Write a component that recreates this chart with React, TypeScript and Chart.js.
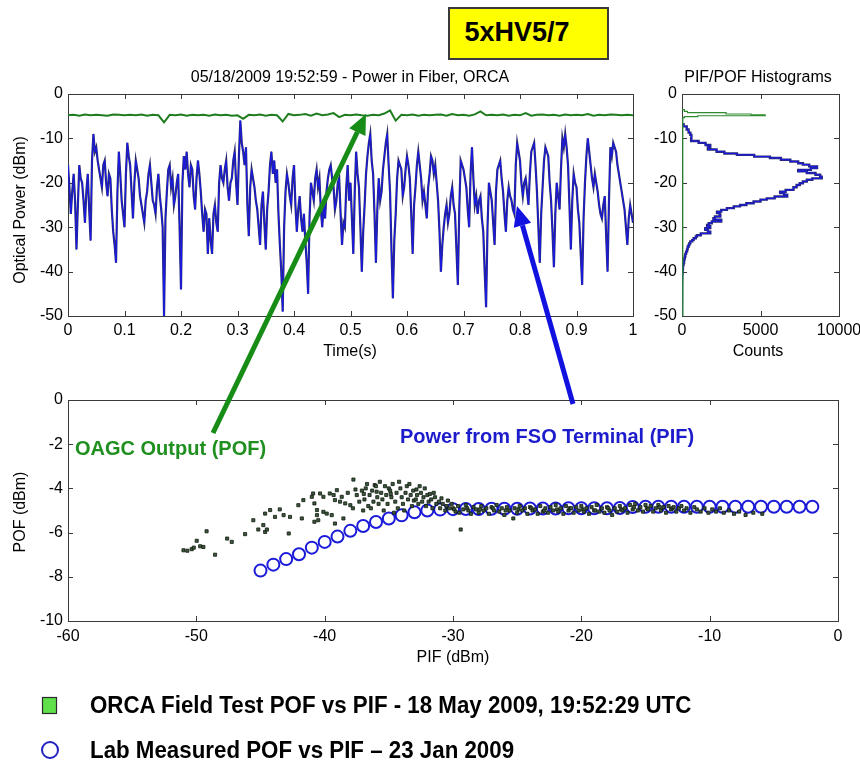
import React, { useEffect, useRef } from "react";
import { Chart, registerables } from "chart.js";
Chart.register(...registerables);

const FONT = '"Liberation Sans", Arial, Helvetica, sans-serif';

// ---------- top panel: power in fiber vs time ----------
const pifStep = 0.0025; // s between PIF samples
const pifTrace = [
  -16, -21, -27, -22, -18, -24, -35, -25, -16, -19, -20, -24, -29, -22, -18, -26, -33, -15, -9, -13,
  -12, -15, -17, -19, -21, -16, -15, -20, -23, -18, -19, -26, -31, -34, -38, -22, -13, -18, -24, -27,
  -30, -18, -11, -14, -16, -22, -28, -20, -15, -17, -19, -23, -25, -27, -29, -24, -22, -18, -16, -20,
  -24, -25, -27, -21, -18, -23, -26, -30, -50, -28, -22, -17, -16, -21, -19, -25, -23, -20, -18, -30,
  -44, -20, -14, -17, -13, -18, -21, -16, -17, -23, -26, -19, -15, -18, -22, -27, -31, -26, -27, -36,
  -28, -33, -36, -27, -25, -29, -31, -20, -16, -19, -20, -17, -15, -21, -24, -20, -19, -15, -13, -20,
  -25, -14, -6, -11, -13, -16, -12, -25, -32, -21, -17, -19, -21, -24, -26, -30, -34, -25, -22, -29,
  -35, -26, -22, -16, -13, -18, -15, -20, -17, -27, -34, -40, -49, -30, -22, -18, -20, -23, -25, -19,
  -16, -25, -31, -26, -23, -28, -31, -27, -33, -38, -45, -28, -20, -22, -24, -19, -17, -21, -19, -26,
  -30, -25, -28, -22, -19, -17, -16, -19, -21, -26, -24, -20, -19, -27, -34, -29, -30, -21, -16, -24,
  -20, -28, -36, -22, -13, -18, -21, -30, -40, -31, -25, -18, -14, -11, -9, -15, -18, -27, -38, -26,
  -19, -24, -22, -17, -14, -11, -9, -16, -22, -35, -46, -33, -27, -19, -15, -16, -17, -23, -21, -17,
  -14, -16, -19, -27, -36, -25, -21, -16, -13, -16, -19, -24, -22, -25, -28, -21, -18, -14, -15, -18,
  -16, -20, -24, -31, -40, -34, -30, -27, -25, -29, -27, -23, -21, -25, -27, -35, -43, -26, -15, -16,
  -17, -19, -21, -26, -30, -18, -12, -19, -25, -23, -27, -24, -23, -28, -31, -40, -48, -30, -20, -22,
  -24, -29,
  -34, -22, -17, -16, -15, -19, -22, -27, -31, -24, -21, -23, -24, -26, -27, -16, -11, -13, -15, -20,
  -23, -20, -19, -22, -25, -18, -13, -12, -11, -16, -22, -30, -38, -27, -21, -15, -12, -13, -14, -20,
  -24, -31, -39, -27, -20, -23, -26, -17, -10, -12, -9, -12, -16, -25, -35, -24, -18, -20, -21, -26,
  -29, -36, -43, -28, -20, -14, -10, -13, -16, -19, -21, -18, -20, -22, -25, -27, -28, -25, -23, -32,
  -40, -24, -12, -14, -11, -12, -13, -16, -18, -20, -22, -24, -26, -30, -34, -28, -25, -27, -29,
];

const pofStep = 0.01; // s between POF samples
const pofTrace = [
  -4.8, -4.7, -4.9, -4.6, -4.8, -4.7, -4.8, -4.9, -4.6, -4.7,
  -4.8, -4.7, -4.8, -4.6, -4.9, -4.7, -4.8, -6.4, -4.7, -4.8,
  -4.6, -4.9, -4.7, -4.8, -4.7, -4.9, -4.6, -4.8, -4.7, -4.9,
  -4.8, -5.6, -4.7, -4.8, -4.6, -4.9, -4.7, -4.8, -6.2, -4.5,
  -4.8, -4.7, -4.5, -4.9, -4.4, -4.8, -4.6, -4.3, -5.2, -4.7,
  -4.8, -4.6, -4.8, -4.9, -4.7, -4.8, -4.4, -3.7, -6.0, -4.7,
  -4.8, -4.6, -4.9, -4.7, -4.8, -4.7, -4.6, -4.9, -4.5, -4.8,
  -4.7, -4.9, -4.6, -3.9, -4.8, -4.7, -4.8, -4.6, -4.9, -4.7,
  -4.8, -4.3, -4.9, -4.7, -4.6, -4.8, -4.7, -4.9, -4.6, -4.8,
  -4.7, -4.8, -4.5, -4.9, -4.7, -4.8, -4.6, -4.7, -4.8, -4.7,
  -4.8,
];

// ---------- histogram panel ----------
const pifHistLevels = [
  -6.8, -7.3, -8.0, -8.7, -9.2, -10.0, -10.6, -11.0, -11.5, -12.0,
  -12.5, -13.0, -13.4, -13.7, -14.1, -14.4, -14.8, -15.2, -15.6, -15.9,
  -16.3, -16.7, -17.1, -17.4, -17.8, -18.2, -18.6, -19.0, -19.3, -19.7,
  -20.1, -20.5, -21.0, -21.6, -22.0, -22.3, -22.7, -23.1, -23.5, -23.8,
  -24.2, -24.6, -25.0, -25.3, -25.7, -26.1, -26.5, -26.8, -27.2, -27.6,
  -28.0, -28.3, -28.7, -29.1, -29.5, -29.8, -30.2, -30.6, -31.0, -31.4,
  -31.8, -32.1, -32.5, -32.9, -33.2, -33.6, -34.0, -34.4, -35.0, -35.5,
  -36.0, -36.6, -37.0, -37.4, -38.0, -38.5, -39.5, -40.4, -41.5, -43.0,
  -45.0, -47.0, -50.0,
];
const pifHistCounts = [
  0, 100, 300, 420, 530, 600, 580, 1060, 1500, 1800,
  1650, 2200, 2700, 3500, 4600, 5600, 6300, 6900, 7400, 7700,
  8100, 8600, 8200, 7400, 7950, 8500, 8800, 8900, 8300, 7950,
  7700, 7500, 7300, 7100, 6600, 6250, 6500, 6700, 5900, 5400,
  5000, 4560, 4100, 3700, 3300, 2860, 2500, 2230, 2400, 2440,
  2100, 2000, 2500, 1900, 1700, 1600, 1800, 1480, 1650, 1800,
  1200, 950, 880, 740, 650, 530, 470, 420, 360, 320,
  260, 210, 180, 150, 130, 100, 60, 40, 20, 10,
  5, 2, 0,
];
const pofHistLevels = [-3.5, -3.9, -4.2, -4.5, -4.7, -4.9, -5.1, -5.3, -5.6, -6.0, -50];
const pofHistCounts = [0, 150, 350, 2800, 4400, 5300, 1000, 150, 60, 50, 50];

// ---------- bottom panel: POF vs PIF ----------
const orcaPoints: [number, number][] = [
  [-51.0, -6.8], [-50.7, -6.82], [-50.36, -6.75], [-50.2, -6.68], [-49.97, -6.37], [-49.7, -6.62],
  [-49.45, -6.65], [-49.2, -5.94], [-48.54, -7.0], [-47.6, -6.27], [-47.24, -6.42], [-46.2, -6.07],
  [-45.56, -5.44], [-45.17, -5.86], [-44.78, -5.66], [-44.64, -5.97], [-44.5, -5.86], [-44.64, -5.14],
  [-44.25, -4.98], [-43.87, -5.29], [-43.5, -4.95], [-43.2, -5.21], [-42.7, -5.29], [-42.8, -6.04],
  [-41.78, -5.36], [-42.05, -4.76], [-41.66, -4.53], [-40.9, -4.23], [-41.0, -4.38], [-40.8, -4.68],
  [-40.6, -4.98], [-40.6, -5.21], [-40.5, -5.44], [-40.8, -5.51], [-40.36, -4.23], [-40.1, -4.38],
  [-40.1, -5.06], [-39.84, -5.14], [-39.45, -5.21], [-39.2, -5.59], [-39.6, -4.23], [-39.2, -4.53],
  [-39.05, -4.08], [-38.67, -4.38], [-38.4, -4.68], [-38.54, -5.36], [-38.0, -4.76], [-37.76, -3.6],
  [-39.3, -4.3], [-38.8, -4.6], [-38.2, -4.2], [-37.8, -4.9], [-37.6, -4.05], [-37.5, -4.3],
  [-37.3, -4.6], [-37.1, -4.1], [-37.0, -5.0], [-36.95, -4.25], [-36.9, -4.5], [-36.8, -4.0],
  [-36.7, -3.8], [-36.6, -4.8], [-36.5, -4.3], [-36.4, -4.9], [-36.3, -4.1], [-36.2, -4.6],
  [-36.1, -3.85], [-36.0, -3.9], [-35.95, -4.15], [-35.9, -4.4], [-35.8, -4.7], [-35.7, -3.7],
  [-35.6, -4.2], [-35.5, -4.5], [-35.4, -5.0], [-35.3, -3.9], [-35.2, -4.3], [-35.1, -4.7],
  [-35.0, -4.0], [-34.9, -4.1], [-34.85, -4.25], [-34.8, -4.4], [-34.7, -3.8], [-34.6, -5.1],
  [-34.5, -4.6], [-34.4, -4.2], [-34.3, -4.9], [-34.2, -3.7], [-34.1, -4.0], [-34.0, -4.4],
  [-33.9, -4.7], [-33.8, -5.0], [-33.7, -4.2], [-33.6, -3.9], [-33.5, -4.5], [-33.4, -3.8],
  [-33.3, -4.3], [-33.2, -4.8], [-33.1, -4.1], [-33.05, -4.55], [-32.9, -4.5], [-32.85, -4.05],
  [-32.8, -4.3], [-32.7, -4.7], [-32.6, -3.9], [-32.5, -4.2], [-32.4, -4.6], [-32.3, -4.4],
  [-32.2, -4.0], [-32.1, -4.8], [-32.0, -4.3], [-31.9, -4.6], [-31.8, -4.25], [-31.7, -4.5],
  [-31.6, -4.9], [-31.5, -4.2], [-31.4, -4.4], [-31.3, -4.7], [-31.1, -4.6], [-31.0, -4.9],
  [-30.9, -4.45], [-30.8, -4.7], [-30.6, -5.0], [-30.5, -4.8], [-30.4, -4.55], [-30.3, -4.9],
  [-30.1, -4.7], [-30.0, -4.9], [-29.9, -4.95], [-29.8, -5.05], [-29.6, -4.8], [-29.5, -5.1],
  [-29.4, -5.86], [-29.2, -4.95], [-29.0, -4.75], [-28.9, -4.9], [-28.8, -5.0], [-28.6, -5.15],
  [-28.4, -4.85], [-28.2, -4.95], [-28.0, -5.1], [-27.9, -4.95], [-27.8, -4.8], [-27.6, -5.0],
  [-27.4, -4.9], [-27.2, -5.15], [-27.0, -4.85], [-26.9, -4.9], [-26.8, -5.0], [-26.6, -4.75],
  [-26.4, -5.05], [-26.2, -4.9], [-26.0, -5.2], [-25.9, -5.0], [-25.8, -4.85], [-25.6, -5.0],
  [-25.3, -5.36], [-25.2, -4.9], [-25.0, -5.1], [-24.9, -4.95], [-24.8, -4.8], [-24.6, -5.0],
  [-24.4, -4.9], [-24.2, -5.15], [-24.0, -4.85], [-23.9, -4.9], [-23.8, -5.0], [-23.6, -4.95],
  [-23.4, -5.15], [-23.2, -4.8], [-23.0, -5.05], [-22.9, -5.0], [-22.8, -4.9], [-22.6, -5.1],
  [-22.4, -4.85], [-22.2, -5.0], [-22.0, -4.75], [-21.9, -4.95], [-21.8, -5.05], [-21.6, -4.9],
  [-21.4, -5.15], [-21.2, -4.8], [-21.0, -5.0], [-20.9, -4.9], [-20.8, -4.9], [-20.6, -5.1],
  [-20.4, -4.85], [-20.2, -5.0], [-20.0, -4.8], [-19.9, -4.95], [-19.8, -5.05], [-19.6, -4.9],
  [-19.4, -5.15], [-19.2, -4.85], [-19.0, -5.0], [-18.9, -5.0], [-18.8, -4.75], [-18.6, -5.05],
  [-18.4, -4.9], [-18.2, -5.1], [-18.0, -4.85], [-17.9, -4.9], [-17.8, -5.0], [-17.6, -5.2],
  [-17.4, -4.9], [-17.2, -5.05], [-17.0, -4.8], [-16.9, -4.95], [-16.8, -5.0], [-16.6, -4.9],
  [-16.4, -5.1], [-16.2, -4.75], [-16.0, -4.95], [-15.9, -4.85], [-15.8, -4.7], [-15.6, -5.0],
  [-15.4, -4.85], [-15.2, -5.05], [-15.0, -4.75], [-14.9, -4.9], [-14.8, -4.95], [-14.6, -4.8],
  [-14.4, -5.05], [-14.2, -4.9], [-14.0, -4.75], [-13.9, -4.85], [-13.8, -5.0], [-13.6, -4.85],
  [-13.4, -5.1], [-13.2, -4.8], [-13.0, -4.95], [-12.9, -4.9], [-12.8, -4.85], [-12.6, -5.05],
  [-12.4, -4.9], [-12.2, -4.8], [-12.0, -5.0], [-11.8, -4.9], [-11.5, -5.1], [-11.2, -4.85],
  [-11.0, -4.95], [-10.7, -5.05], [-10.4, -4.9], [-10.1, -5.1], [-9.8, -4.95], [-9.5, -5.05],
  [-9.2, -4.9], [-8.9, -5.1], [-8.5, -5.0], [-8.1, -5.15], [-7.7, -5.05], [-7.2, -5.2],
  [-6.6, -5.1], [-5.9, -5.15],
];

const labPIF = [
  -45, -44, -43, -42, -41, -40, -39, -38, -37, -36, -35, -34, -33, -32, -31,
  -30, -29, -28, -27, -26, -25, -24, -23, -22, -21, -20, -19, -18, -17, -16,
  -15, -14, -13, -12, -11, -10, -9, -8, -7, -6, -5, -4, -3, -2,
];
const labPOF = [
  -7.72, -7.45, -7.2, -6.98, -6.68, -6.42, -6.18, -5.92, -5.7, -5.52, -5.36, -5.22, -5.08, -5.0, -4.96,
  -4.94, -4.93, -4.93, -4.92, -4.92, -4.92, -4.91, -4.91, -4.91, -4.9, -4.9, -4.9, -4.9, -4.89, -4.84,
  -4.83, -4.83, -4.83, -4.83, -4.83, -4.83, -4.83, -4.83, -4.83, -4.83, -4.83, -4.83, -4.83, -4.83,
];

// ---------- MATLAB-style box with inward ticks ----------
const matlabBox = {
  id: "matlabBox",
  beforeDatasetsDraw(chart: any) {
    const { ctx, chartArea: a, scales } = chart;
    const L = 5;
    ctx.save();
    ctx.strokeStyle = "#3a3a3a";
    ctx.lineWidth = 1;
    ctx.beginPath();
    const xs = scales.x;
    const ys = scales.y;
    xs.ticks.forEach((t: any) => {
      const p = Math.round(xs.getPixelForValue(t.value)) + 0.5;
      ctx.moveTo(p, a.bottom);
      ctx.lineTo(p, a.bottom - L);
      ctx.moveTo(p, a.top);
      ctx.lineTo(p, a.top + L);
    });
    ys.ticks.forEach((t: any) => {
      const p = Math.round(ys.getPixelForValue(t.value)) + 0.5;
      ctx.moveTo(a.left, p);
      ctx.lineTo(a.left + L, p);
      ctx.moveTo(a.right, p);
      ctx.lineTo(a.right - L, p);
    });
    ctx.stroke();
    ctx.strokeRect(Math.round(a.left) + 0.5, Math.round(a.top) + 0.5, Math.round(a.width), Math.round(a.height));
    ctx.restore();
  },
};

const tickFont = { family: FONT, size: 16 };

function axis(min: number, max: number, step: number, fit: (s: any) => void, fmt?: (v: number) => string, padding = 5) {
  return {
    type: "linear",
    min,
    max,
    afterFit: fit,
    grid: { display: false, drawTicks: false },
    border: { display: false },
    ticks: {
      stepSize: step,
      autoSkip: false,
      maxRotation: 0,
      padding,
      color: "#000",
      font: tickFont,
      callback: fmt || ((v: number) => String(Math.round(v * 10) / 10)),
    },
  };
}

const baseOptions = (padding: any) => ({
  responsive: false,
  animation: false,
  events: [],
  layout: { padding },
  plugins: { legend: { display: false }, tooltip: { enabled: false }, title: { display: false } },
});

function timeChartConfig() {
  const pif = pifTrace.map((v, i) => ({ x: i * pifStep, y: v }));
  const pof = pofTrace.map((v, i) => ({ x: i * pofStep, y: v }));
  return {
    type: "line",
    data: {
      datasets: [
        { data: pof, borderColor: "#1f7d1f", borderWidth: 2, pointRadius: 0, tension: 0 },
        { data: pif, borderColor: "#1818ee", borderWidth: 1, pointRadius: 0, tension: 0 },
        { data: pif, borderColor: "#2b2b70", borderWidth: 2.2, pointRadius: 0, tension: 0 },
      ],
    },
    options: {
      ...baseOptions({ top: 34, right: 17, left: 0, bottom: 0 }),
      scales: {
        x: axis(0, 1, 0.1, (s) => { s.height = 44; }),
        y: axis(-50, 0, 10, (s) => { s.width = 68; }),
      },
    },
    plugins: [matlabBox],
  };
}

function histChartConfig() {
  const pifH = pifHistLevels.map((y, i) => ({ x: pifHistCounts[i], y }));
  const pofH = pofHistLevels.map((y, i) => ({ x: pofHistCounts[i], y }));
  return {
    type: "line",
    data: {
      datasets: [
        { data: pofH, borderColor: "#2e8b2e", borderWidth: 1.2, pointRadius: 0, stepped: true },
        { data: pifH, borderColor: "#1818ee", borderWidth: 1, pointRadius: 0, stepped: true },
        { data: pifH, borderColor: "#2b2b70", borderWidth: 2.4, pointRadius: 0, stepped: true },
      ],
    },
    options: {
      ...baseOptions({ top: 34, right: 31, left: 0, bottom: 0 }),
      scales: {
        x: axis(0, 10000, 5000, (s) => { s.height = 44; }, (v) => String(v)),
        y: axis(-50, 0, 10, (s) => { s.width = 42; }),
      },
    },
    plugins: [matlabBox],
  };
}

function scatterChartConfig() {
  return {
    type: "scatter",
    data: {
      datasets: [
        {
          data: orcaPoints.map(([x, y]) => ({ x, y })),
          pointStyle: "rect",
          pointRadius: 2.2,
          backgroundColor: "#3c5a3c",
          borderColor: "#101810",
          borderWidth: 0.8,
        },
        {
          data: labPIF.map((x, i) => ({ x, y: labPOF[i] })),
          pointStyle: "circle",
          pointRadius: 6,
          backgroundColor: "rgba(0,0,0,0)",
          borderColor: "#1a1ad8",
          borderWidth: 2,
        },
      ],
    },
    options: {
      ...baseOptions({ top: 20, right: 22, left: 0, bottom: 0 }),
      scales: {
        x: axis(-60, 0, 10, (s) => { s.height = 49; }, (v) => String(v), 6),
        y: axis(-10, 0, 2, (s) => { s.width = 68; }, (v) => String(v)),
      },
    },
    plugins: [matlabBox],
  };
}

function ChartCanvas({ make, left, top, width, height }: any) {
  const ref = useRef<HTMLCanvasElement | null>(null);
  useEffect(() => {
    const chart = new Chart(ref.current as HTMLCanvasElement, make());
    return () => chart.destroy();
  }, []);
  return (
    <canvas
      ref={ref}
      width={width}
      height={height}
      style={{ position: "absolute", left, top, width, height }}
    />
  );
}

function Label({ x, y, children, style, rotate, anchor = "center" }: any) {
  const tx = anchor === "left" ? "0" : "-50%";
  return (
    <div
      style={{
        position: "absolute",
        left: x,
        top: y,
        whiteSpace: "nowrap",
        lineHeight: 1,
        fontFamily: FONT,
        fontSize: 16,
        color: "#000",
        transform: `translate(${tx}, -50%)${rotate ? " rotate(-90deg)" : ""}`,
        transformOrigin: anchor === "left" ? "left center" : "center center",
        ...style,
      }}
    >
      {children}
    </div>
  );
}

function arrow(x0: number, y0: number, x1: number, y1: number, color: string) {
  const dx = x1 - x0;
  const dy = y1 - y0;
  const len = Math.hypot(dx, dy);
  const ux = dx / len;
  const uy = dy / len;
  const head = 20;
  const half = 9;
  const bx = x1 - head * ux;
  const by = y1 - head * uy;
  const nx = -uy;
  const ny = ux;
  const pts = `${x1},${y1} ${bx + half * nx},${by + half * ny} ${bx - half * nx},${by - half * ny}`;
  return (
    <g>
      <line x1={x0} y1={y0} x2={bx} y2={by} stroke={color} strokeWidth={5} />
      <polygon points={pts} fill={color} />
    </g>
  );
}

export default function App() {
  return (
    <div
      style={{
        position: "fixed",
        left: 0,
        top: 0,
        width: 860,
        height: 765,
        background: "#fff",
        overflow: "hidden",
        fontFamily: FONT,
      }}
    >
      <div
        style={{
          position: "absolute",
          left: 448,
          top: 7,
          width: 157,
          height: 49,
          background: "#ffff00",
          border: "2px solid #3a3a3a",
          boxSizing: "content-box",
        }}
      />
      <Label x={517} y={32} style={{ fontSize: 27, fontWeight: "bold" }}>5xHV5/7</Label>

      <ChartCanvas make={timeChartConfig} left={0} top={60} width={650} height={300} />
      <ChartCanvas make={histChartConfig} left={640} top={60} width={230} height={300} />
      <ChartCanvas make={scatterChartConfig} left={0} top={380} width={860} height={290} />

      <Label x={350} y={77}>05/18/2009 19:52:59 - Power in Fiber, ORCA</Label>
      <Label x={758} y={77}>PIF/POF Histograms</Label>
      <Label x={350} y={351}>Time(s)</Label>
      <Label x={758} y={351}>Counts</Label>
      <Label x={20} y={210} rotate>Optical Power (dBm)</Label>
      <Label x={20} y={512} rotate>POF (dBm)</Label>
      <Label x={453} y={657}>PIF (dBm)</Label>

      <Label x={75} y={448} anchor="left" style={{ fontSize: 20, fontWeight: "bold", color: "#1f8f1f" }}>
        OAGC Output (POF)
      </Label>
      <Label x={400} y={436} anchor="left" style={{ fontSize: 20, fontWeight: "bold", color: "#1c1ccc" }}>
        Power from FSO Terminal (PIF)
      </Label>

      <svg
        width={860}
        height={765}
        style={{ position: "absolute", left: 0, top: 0, pointerEvents: "none" }}
      >
        {arrow(213, 433, 366, 114, "#178c17")}
        {arrow(573, 404, 517, 206, "#1212e0")}
        <rect x={42.5} y={697.5} width={14} height={16} fill="#5fe04a" stroke="#2a2a2a" strokeWidth={1.2} />
        <circle cx={50} cy={750} r={8} fill="none" stroke="#2222c0" strokeWidth={2} />
      </svg>

      <Label x={90} y={705} anchor="left" style={{ fontSize: 23, fontWeight: "bold", transform: "translate(0, -50%) scaleX(0.97)" }}>
        ORCA Field Test POF vs PIF - 18 May 2009, 19:52:29 UTC
      </Label>
      <Label x={90} y={750} anchor="left" style={{ fontSize: 23, fontWeight: "bold", transform: "translate(0, -50%) scaleX(0.97)" }}>
        Lab Measured POF vs PIF – 23 Jan 2009
      </Label>
    </div>
  );
}
